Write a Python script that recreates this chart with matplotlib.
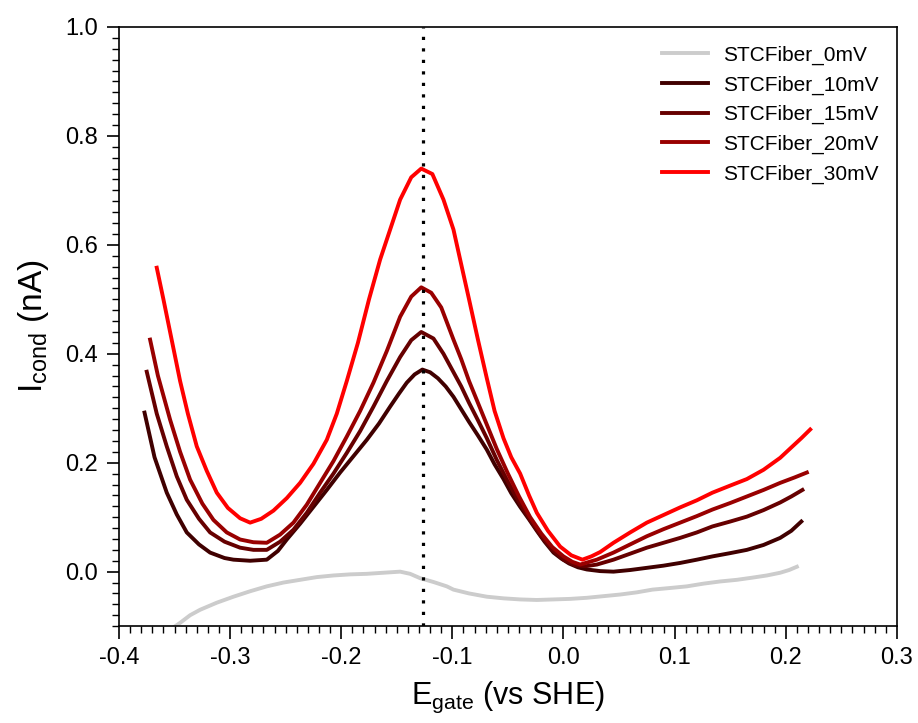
import matplotlib
matplotlib.use('Agg')
import matplotlib.pyplot as plt
from matplotlib.ticker import MultipleLocator, FormatStrFormatter

plt.rcParams['font.family'] = ['Liberation Sans', 'DejaVu Sans']
plt.rcParams['mathtext.default'] = 'regular'

# --- data (E in V vs SHE, I in nA) ---
e_0mV = [-0.360, -0.345, -0.336, -0.327, -0.312, -0.297, -0.282, -0.267, -0.252,
         -0.237, -0.222, -0.207, -0.192, -0.177, -0.162, -0.147, -0.138, -0.129,
         -0.117, -0.105, -0.099, -0.085, -0.069, -0.054, -0.039, -0.024, -0.009,
         0.006, 0.021, 0.036, 0.051, 0.066, 0.080, 0.096, 0.111, 0.126, 0.141,
         0.156, 0.170, 0.183, 0.195, 0.203, 0.210]
i_0mV = [-0.115, -0.094, -0.080, -0.070, -0.057, -0.046, -0.036, -0.027, -0.020,
         -0.015, -0.010, -0.007, -0.005, -0.004, -0.002, 0.000, -0.004, -0.012,
         -0.019, -0.027, -0.033, -0.040, -0.046, -0.049, -0.051, -0.052, -0.051,
         -0.050, -0.048, -0.045, -0.042, -0.038, -0.033, -0.030, -0.027, -0.022, -0.018,
         -0.015, -0.011, -0.007, -0.002, 0.003, 0.009]

e_10mV = [-0.377, -0.368, -0.357, -0.348, -0.339, -0.328, -0.318, -0.305, -0.297,
          -0.282, -0.267, -0.257, -0.249, -0.237, -0.225, -0.213, -0.201, -0.189,
          -0.177, -0.166, -0.156, -0.148, -0.141, -0.134, -0.127, -0.120, -0.113,
          -0.106, -0.099, -0.092, -0.085, -0.077, -0.069, -0.062, -0.054, -0.047,
          -0.039, -0.031, -0.024, -0.017, -0.009, -0.002, 0.005, 0.013, 0.021,
          0.033, 0.045, 0.060, 0.075, 0.090, 0.105, 0.120, 0.134, 0.150, 0.165,
          0.180, 0.195, 0.205, 0.214]
i_10mV = [0.292, 0.210, 0.145, 0.105, 0.072, 0.050, 0.035, 0.025, 0.022,
          0.020, 0.022, 0.038, 0.059, 0.088, 0.119, 0.150, 0.182, 0.212,
          0.242, 0.272, 0.303, 0.327, 0.347, 0.362, 0.371, 0.366, 0.355,
          0.340, 0.321, 0.298, 0.275, 0.250, 0.224, 0.197, 0.170, 0.144,
          0.119, 0.096, 0.075, 0.055, 0.035, 0.024, 0.015, 0.008, 0.004,
          0.001, 0.000, 0.003, 0.007, 0.011, 0.016, 0.022, 0.028, 0.034, 0.040,
          0.049, 0.062, 0.075, 0.092]

e_15mV = [-0.375, -0.366, -0.357, -0.348, -0.339, -0.328, -0.318, -0.305, -0.291,
          -0.279, -0.267, -0.255, -0.243, -0.231, -0.219, -0.207, -0.195, -0.183,
          -0.171, -0.159, -0.147, -0.137, -0.128, -0.117, -0.108, -0.100, -0.092,
          -0.085, -0.077, -0.069, -0.060, -0.050, -0.040, -0.030, -0.020, -0.010,
          0.000, 0.010, 0.020, 0.030, 0.045, 0.060, 0.075, 0.090, 0.105, 0.120,
          0.134, 0.150, 0.165, 0.180, 0.195, 0.205, 0.215]
i_15mV = [0.367, 0.290, 0.230, 0.175, 0.132, 0.097, 0.072, 0.055, 0.044,
          0.040, 0.040, 0.055, 0.077, 0.108, 0.145, 0.180, 0.218, 0.258,
          0.303, 0.350, 0.394, 0.425, 0.440, 0.428, 0.400, 0.370, 0.340,
          0.310, 0.278, 0.245, 0.205, 0.165, 0.128, 0.095, 0.065, 0.040,
          0.022, 0.012, 0.010, 0.013, 0.022, 0.033, 0.044, 0.053, 0.062, 0.072,
          0.083, 0.092, 0.101, 0.113, 0.127, 0.138, 0.150]

e_20mV = [-0.372, -0.365, -0.354, -0.345, -0.336, -0.325, -0.315, -0.303, -0.291,
          -0.279, -0.267, -0.255, -0.243, -0.231, -0.219, -0.207, -0.195, -0.183,
          -0.171, -0.159, -0.147, -0.137, -0.128, -0.119, -0.110, -0.099, -0.092,
          -0.085, -0.077, -0.069, -0.060, -0.050, -0.040, -0.030, -0.020, -0.010,
          0.000, 0.008, 0.015, 0.030, 0.045, 0.060, 0.075, 0.090, 0.105, 0.120,
          0.134, 0.150, 0.165, 0.180, 0.195, 0.208, 0.219]
i_20mV = [0.426, 0.360, 0.279, 0.220, 0.169, 0.125, 0.095, 0.072, 0.059,
          0.054, 0.053, 0.068, 0.090, 0.123, 0.163, 0.203, 0.248, 0.295,
          0.347, 0.405, 0.468, 0.505, 0.522, 0.512, 0.485, 0.426, 0.390,
          0.350, 0.310, 0.270, 0.225, 0.180, 0.138, 0.100, 0.070, 0.045,
          0.028, 0.018, 0.013, 0.022, 0.035, 0.050, 0.065, 0.078, 0.090, 0.102,
          0.114, 0.126, 0.138, 0.150, 0.163, 0.173, 0.182]

e_30mV = [-0.366, -0.360, -0.352, -0.345, -0.338, -0.330, -0.321, -0.312, -0.302,
          -0.291, -0.282, -0.272, -0.261, -0.249, -0.237, -0.225, -0.213, -0.204,
          -0.195, -0.185, -0.175, -0.165, -0.156, -0.147, -0.137, -0.128, -0.118,
          -0.108, -0.099, -0.093, -0.085, -0.077, -0.069, -0.062, -0.054, -0.047,
          -0.039, -0.031, -0.024, -0.014, -0.003, 0.007, 0.017, 0.025, 0.033,
          0.045, 0.060, 0.075, 0.090, 0.105, 0.120, 0.134, 0.150, 0.165, 0.180,
          0.195, 0.205, 0.214, 0.222]
i_30mV = [0.558, 0.500, 0.420, 0.350, 0.290, 0.230, 0.185, 0.145, 0.117,
          0.098, 0.090, 0.097, 0.112, 0.135, 0.163, 0.198, 0.242, 0.290,
          0.350, 0.420, 0.500, 0.573, 0.628, 0.683, 0.724, 0.740, 0.730,
          0.683, 0.628, 0.573, 0.500, 0.426, 0.355, 0.295, 0.245, 0.210,
          0.180, 0.140, 0.108, 0.075, 0.046, 0.030, 0.022, 0.028, 0.036,
          0.053, 0.072, 0.090, 0.104, 0.118, 0.131, 0.145, 0.158, 0.170, 0.187,
          0.209, 0.228, 0.245, 0.261]

labels = ['STCFiber_0mV', 'STCFiber_10mV', 'STCFiber_15mV', 'STCFiber_20mV', 'STCFiber_30mV']
colors = ['#cccccc', '#400000', '#660000', '#990000', '#ff0000']
peak_E = -0.1265

fig = plt.figure(figsize=(9.18, 7.23), dpi=100)
ax = fig.add_axes([0.1296, 0.134, 0.8474, 0.8287])

series = [(e_0mV, i_0mV), (e_10mV, i_10mV), (e_15mV, i_15mV),
          (e_20mV, i_20mV), (e_30mV, i_30mV)]
for (e, i), lab, c in zip(series, labels, colors):
    ax.plot(e, i, color=c, lw=2.8, label=lab, solid_joinstyle='round')

ax.axvline(peak_E, color='black', ls=(0, (1, 2.6)), lw=2.3)

ax.set_xlim(-0.4, 0.3)
ax.set_ylim(-0.1, 1.0)
ax.xaxis.set_major_locator(MultipleLocator(0.1))
ax.xaxis.set_minor_locator(MultipleLocator(0.01))
ax.yaxis.set_major_locator(MultipleLocator(0.2))
ax.yaxis.set_minor_locator(MultipleLocator(0.02))
ax.xaxis.set_major_formatter(FormatStrFormatter('%.1f'))
ax.yaxis.set_major_formatter(FormatStrFormatter('%.1f'))
ax.tick_params(which='major', direction='out', length=9, width=1.2, labelsize=17, pad=6)
ax.tick_params(which='minor', direction='out', length=5, width=1)
for s in ax.spines.values():
    s.set_linewidth(1.2)

ax.set_xlabel('E$_{gate}$ (vs SHE)', fontsize=22, labelpad=8)
ax.set_ylabel('I$_{cond}$ (nA)', fontsize=24, labelpad=10)

ax.legend(loc='upper right', frameon=False, fontsize=15, handlelength=2.2,
          handletextpad=0.7, labelspacing=0.5)

fig.savefig('out.png', dpi=100)
